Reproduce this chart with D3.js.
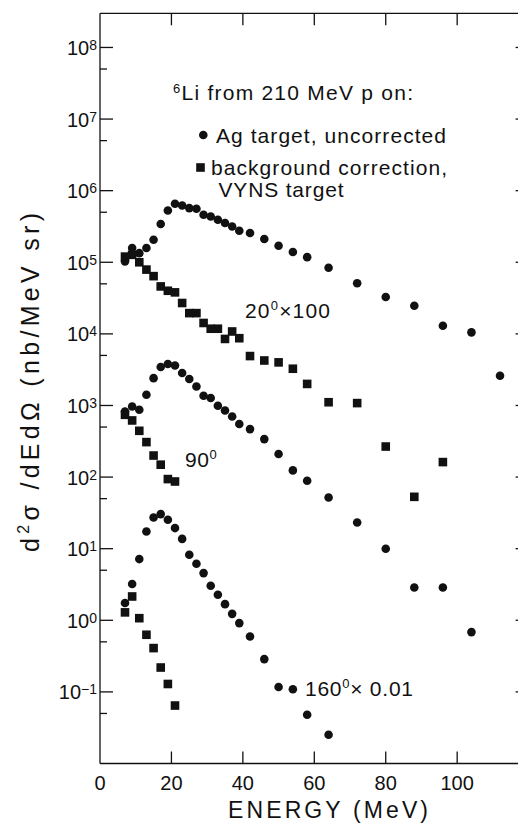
<!DOCTYPE html>
<html><head><meta charset="utf-8">
<script src="https://cdn.jsdelivr.net/npm/d3@7"></script>
<style>
html,body{margin:0;padding:0;background:#fff;}
svg{display:block;}
text{font-family:"Liberation Sans",Arial,Helvetica,sans-serif;fill:#111;}
</style></head>
<body>
<script>
// ---- data ----
const energyBins = [7,9,11,13,15,17,19,21,23,25,27,29,31,33,35,37,39,42,46,50,54,58,64,72,80,88,96,104,112];
// 20 deg x100, Ag target uncorrected (circles)
const ag20 = [1.03e5,1.58e5,1.34e5,1.58e5,2.06e5,3.42e5,5.29e5,6.56e5,6.21e5,5.71e5,5.59e5,4.60e5,4.36e5,3.92e5,3.53e5,3.16e5,2.75e5,2.56e5,2.11e5,1.70e5,1.39e5,1.18e5,8.4e4,5.1e4,3.27e4,2.47e4,1.30e4,1.05e4,2.6e3];
// 20 deg x100, background correction (squares)
const bg20 = [1.2e5,1.27e5,1.0e5,7.9e4,6.4e4,4.6e4,4.0e4,3.8e4,2.7e4,1.95e4,1.95e4,1.42e4,1.18e4,1.18e4,8.5e3,1.08e4,8.7e3,4.9e3,4.25e3,4.0e3,3.26e3,2.0e3,1.11e3,1.08e3,267,53,162];
// 90 deg
const ag90 = [824,968,871,1410,2410,3440,3790,3620,2840,2340,1840,1370,1270,991,852,702,550,468,339,210,124,88.7,51.9,23.2,10,2.87,2.87,0.684];
const bg90 = [741,618,443,308,200,149,93.8,86.8];
// 160 deg x0.01
const ag160 = [1.74,3.21,7.16,17.4,27.3,30.4,25.3,19.4,13.7,8.23,6.15,4.56,3.03,2.27,1.68,1.23,0.914,0.594,0.287,0.117,0.109,0.0479,0.0252];
const bg160 = [1.29,2.15,1.07,0.628,0.409,0.219,0.129,0.0645];

const xTicks = [0,20,40,60,80,100,120];
const xTickLabels = [0,20,40,60,80,100];
const yExponents = [-1,0,1,2,3,4,5,6,7,8];
const yMinor = [5e-2,5e-1,5,50,500,5e3,5e4,5e5,5e6,5e7];

// ---- layout ----
const W = 518, H = 827;
const svg = d3.select("body").append("svg").attr("width", W).attr("height", H);
const x = d3.scaleLinear().domain([0,120]).range([100, 528.6]);
const y = d3.scaleLog().domain([1e-2, 3e8]).range([763.5, 13.3]);
const ink = "#111";

// frame
const g = svg.append("g");
g.append("line").attr("x1",x(0)).attr("x2",x(120)).attr("y1",y.range()[0]).attr("y2",y.range()[0]).attr("stroke",ink).attr("stroke-width",1.3);
g.append("line").attr("x1",x(0)).attr("x2",x(120)).attr("y1",y.range()[1]).attr("y2",y.range()[1]).attr("stroke",ink).attr("stroke-width",1.3);
g.append("line").attr("x1",x(0)).attr("x2",x(0)).attr("y1",y.range()[0]).attr("y2",y.range()[1]).attr("stroke",ink).attr("stroke-width",1.3);
g.append("line").attr("x1",x(120)).attr("x2",x(120)).attr("y1",y.range()[0]).attr("y2",y.range()[1]).attr("stroke",ink).attr("stroke-width",1.3);

// x ticks (bottom pointing up, top pointing down)
xTicks.filter(t=>t>0 && t<120).forEach(t=>{
  g.append("line").attr("x1",x(t)).attr("x2",x(t)).attr("y1",y.range()[0]).attr("y2",y.range()[0]-12).attr("stroke",ink).attr("stroke-width",1.3);
  g.append("line").attr("x1",x(t)).attr("x2",x(t)).attr("y1",y.range()[1]).attr("y2",y.range()[1]+12).attr("stroke",ink).attr("stroke-width",1.3);
});
xTickLabels.forEach(t=>{
  g.append("text").attr("x",x(t)).attr("y",790).attr("text-anchor","middle").attr("font-size",20).text(t);
});

// y ticks
yExponents.forEach(e=>{
  const v = Math.pow(10,e);
  g.append("line").attr("x1",x(0)).attr("x2",x(0)+13).attr("y1",y(v)).attr("y2",y(v)).attr("stroke",ink).attr("stroke-width",1.3);
  g.append("line").attr("x1",x(120)).attr("x2",x(120)-13).attr("y1",y(v)).attr("y2",y(v)).attr("stroke",ink).attr("stroke-width",1.3);
  const t = g.append("text").attr("x",97).attr("y",y(v)+7.5).attr("text-anchor","end").attr("font-size",20);
  t.append("tspan").text("10");
  t.append("tspan").attr("font-size",14).attr("dy",-5).text(e<0 ? "\u2212"+(-e) : String(e));
});
yMinor.forEach(v=>{
  g.append("line").attr("x1",x(0)).attr("x2",x(0)+7).attr("y1",y(v)).attr("y2",y(v)).attr("stroke",ink).attr("stroke-width",1.3);
  g.append("line").attr("x1",x(120)).attr("x2",x(120)-7).attr("y1",y(v)).attr("y2",y(v)).attr("stroke",ink).attr("stroke-width",1.3);
});

// axis titles
svg.append("text").attr("x",228).attr("y",818).attr("font-size",23)
  .attr("textLength",200).attr("lengthAdjust","spacing").text("ENERGY (MeV)");
const yl = svg.append("text").attr("transform","translate(38.5,552) rotate(-90)").attr("font-size",25)
  .attr("textLength",339).attr("lengthAdjust","spacing");
yl.append("tspan").text("d");
yl.append("tspan").attr("font-size",16).attr("dy",-10).text("2");
yl.append("tspan").attr("dy",10).text("\u03C3 /dEd\u03A9 (nb/MeV sr)");

// markers
const R = 4.3, S = 8.6;
function circles(vals){
  svg.append("g").selectAll("circle").data(vals).join("circle")
    .attr("cx",(d,i)=>x(energyBins[i])).attr("cy",d=>y(d)).attr("r",R).attr("fill",ink);
}
function squares(vals){
  svg.append("g").selectAll("rect").data(vals).join("rect")
    .attr("x",(d,i)=>x(energyBins[i])-S/2).attr("y",d=>y(d)-S/2).attr("width",S).attr("height",S).attr("fill",ink);
}
circles(ag20); squares(bg20);
circles(ag90); squares(bg90);
circles(ag160); squares(bg160);

// legend
const t1 = svg.append("text").attr("x",173).attr("y",100).attr("font-size",21).attr("textLength",240).attr("lengthAdjust","spacing");
t1.append("tspan").attr("font-size",13).attr("dy",-7).text("6");
t1.append("tspan").attr("dy",7).text("Li from 210 MeV p on:");
svg.append("circle").attr("cx",203.3).attr("cy",135).attr("r",R).attr("fill",ink);
svg.append("text").attr("x",216).attr("y",143).attr("font-size",21).attr("textLength",230).attr("lengthAdjust","spacing").text("Ag target, uncorrected");
svg.append("rect").attr("x",200.5-S/2).attr("y",167.5-S/2).attr("width",S).attr("height",S).attr("fill",ink);
svg.append("text").attr("x",211).attr("y",175).attr("font-size",21).attr("textLength",236).attr("lengthAdjust","spacing").text("background correction,");
svg.append("text").attr("x",218.5).attr("y",197).attr("font-size",21).attr("textLength",125).attr("lengthAdjust","spacing").text("VYNS target");

// curve annotations
function ann(xp, yp, a, b, w){
  const t = svg.append("text").attr("x",xp).attr("y",yp).attr("font-size",21).attr("textLength",w).attr("lengthAdjust","spacing");
  t.append("tspan").text(a);
  t.append("tspan").attr("font-size",13).attr("dy",-8).text("0");
  if (b) t.append("tspan").attr("dy",8).text(b);
}
ann(245, 318, "20", "\u00D7100", 85);
ann(185, 466.7, "90", null, 31.7);
ann(305, 696, "160", "\u00D7 0.01", 108);
</script>
</body></html>
